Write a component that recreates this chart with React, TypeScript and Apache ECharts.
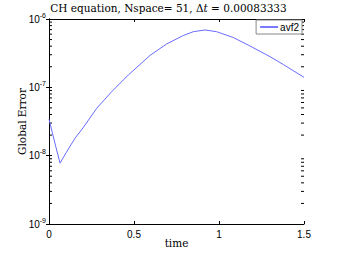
import React, { useEffect, useRef } from "react";
import * as echarts from "echarts";

const times = [0, 0.02, 0.04, 0.065, 0.1, 0.153, 0.2, 0.281, 0.369, 0.467, 0.565, 0.594, 0.692, 0.79, 0.849, 0.918, 0.986, 1.084, 1.182, 1.3, 1.378, 1.5];
const errors = [3.42e-8, 2.15e-8, 1.35e-8, 7.77e-9, 1.1e-8, 1.8e-8, 2.55e-8, 4.95e-8, 8.65e-8, 1.52e-7, 2.52e-7, 2.93e-7, 4.31e-7, 5.74e-7, 6.52e-7, 6.91e-7, 6.52e-7, 5.36e-7, 4.03e-7, 2.81e-7, 2.16e-7, 1.4e-7];
const xTicks = [0, 0.5, 1, 1.5];
const decades = [-9, -8, -7];
const minorMultipliers = [2, 3, 4, 5, 6, 7, 8, 9];
const seriesName = "avf2";
const titleText = "CH equation, Nspace= 51, \u0394{i|t} = 0.00083333";

export default function App() {
  const ref = useRef<HTMLDivElement>(null);
  useEffect(() => {
    if (!ref.current) return;
    const chart = echarts.init(ref.current, null, { renderer: "svg" });
    const minorVals: number[][] = [];
    decades.forEach((d) => minorMultipliers.forEach((k) => minorVals.push([0, k * Math.pow(10, d)])));
    const xMin = xTicks[0];
    const xMax = xTicks[xTicks.length - 1];
    const sans = "Liberation Sans";
    const serif = "DejaVu Serif";
    const tickStyle = { inside: true, length: 3, lineStyle: { color: "#000" } };
    const lineStyle = { show: true, lineStyle: { color: "#000", width: 1 } };
    chart.setOption({
      animation: false,
      backgroundColor: "#fff",
      title: {
        text: titleText,
        left: "center",
        top: 2,
        padding: 0,
        textStyle: {
          fontFamily: serif,
          fontSize: 10.5,
          fontWeight: "normal",
          color: "#000",
          rich: { i: { fontFamily: serif, fontStyle: "italic", fontSize: 10.5, color: "#000" } },
        },
      },
      legend: {
        right: 35,
        top: 20,
        itemWidth: 18,
        itemHeight: 8,
        padding: [2, 3, 2, 4],
        borderColor: "#888",
        borderWidth: 1,
        borderRadius: 0,
        backgroundColor: "#fff",
        textStyle: { fontFamily: sans, fontSize: 10, color: "#000", padding: [0, 0, 0, -3] },
        data: [{ name: seriesName, icon: "path://M0,0 L1,0 L1,0.1 L0,0.1 Z" }],
      },
      grid: { left: 49, right: 33, top: 19, bottom: 29 },
      xAxis: [
        {
          type: "value",
          min: xMin,
          max: xMax,
          interval: 0.5,
          position: "bottom",
          name: "time",
          nameLocation: "middle",
          nameGap: 13,
          nameMoveOverlap: false,
          nameTextStyle: { fontFamily: serif, fontSize: 10.5, color: "#000", verticalAlign: "top" },
          axisLine: lineStyle,
          axisTick: tickStyle,
          splitLine: { show: false },
          axisLabel: { fontFamily: sans, fontSize: 10, color: "#000", margin: 5 },
        },
        {
          type: "value",
          min: xMin,
          max: xMax,
          interval: 0.5,
          position: "top",
          axisLine: lineStyle,
          axisTick: tickStyle,
          splitLine: { show: false },
          axisLabel: { show: false },
        },
      ],
      yAxis: [
        {
          type: "log",
          logBase: 10,
          min: 1e-9,
          max: 1e-6,
          interval: 1,
          position: "left",
          name: "Global Error",
          nameLocation: "middle",
          nameGap: 22,
          nameMoveOverlap: false,
          nameTextStyle: { fontFamily: serif, fontSize: 10.5, color: "#000" },
          axisLine: lineStyle,
          axisTick: tickStyle,
          splitLine: { show: false },
          axisLabel: {
            margin: 3,
            formatter: (v: number) => `{b|10}{s|${Math.round(Math.log10(v))}}`,
            rich: {
              b: { fontFamily: sans, fontSize: 10, color: "#000" },
              s: { fontFamily: sans, fontSize: 7, color: "#000", padding: [0, 0, 8, 0] },
            },
          },
        },
        {
          type: "log",
          logBase: 10,
          min: 1e-9,
          max: 1e-6,
          interval: 1,
          position: "right",
          axisLine: lineStyle,
          axisTick: tickStyle,
          splitLine: { show: false },
          axisLabel: { show: false },
        },
      ],
      series: [
        {
          name: seriesName,
          type: "line",
          data: times.map((t, i) => [t, errors[i]]),
          symbol: "none",
          smooth: false,
          lineStyle: { color: "#6b6bff", width: 1 },
          itemStyle: { color: "#6b6bff" },
          z: 3,
        },
        {
          type: "custom",
          silent: true,
          data: minorVals,
          renderItem: (params: any, api: any) => {
            const v = api.value(1);
            const pL = api.coord([xMin, v]);
            const pR = api.coord([xMax, v]);
            return {
              type: "group",
              children: [
                { type: "line", shape: { x1: pL[0], y1: pL[1], x2: pL[0] + 3, y2: pL[1] }, style: { stroke: "#000", lineWidth: 1 } },
                { type: "line", shape: { x1: pR[0], y1: pR[1], x2: pR[0] - 3, y2: pR[1] }, style: { stroke: "#000", lineWidth: 1 } },
              ],
            };
          },
          z: 2,
        },
      ],
    });
    return () => chart.dispose();
  }, []);
  return <div ref={ref} style={{ position: "fixed", left: 0, top: 0, width: 337, height: 253 }} />;
}
